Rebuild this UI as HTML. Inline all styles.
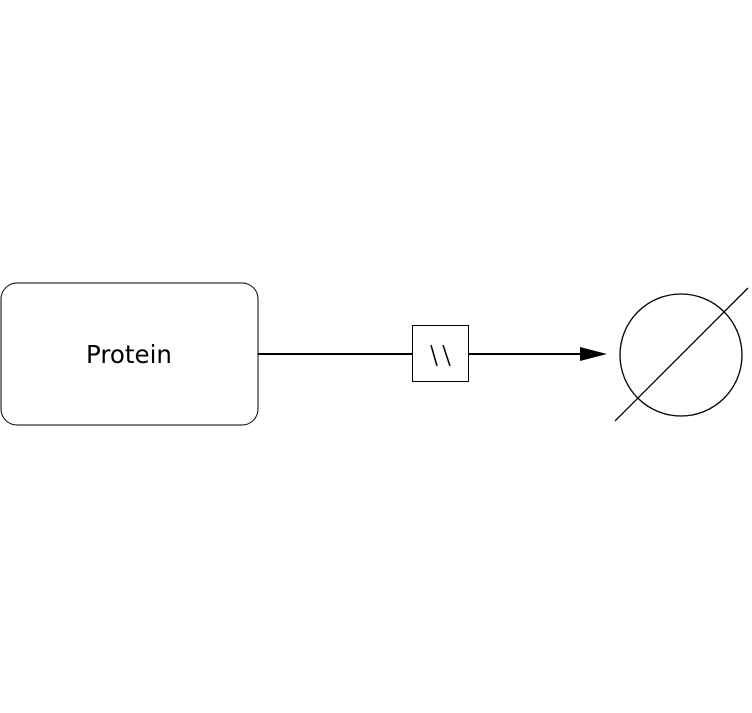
<!DOCTYPE html>
<html><head><style>body{margin:0;background:#fff}</style></head><body>
<svg width="752" height="708" xmlns="http://www.w3.org/2000/svg">
<rect x="1" y="283" width="257" height="142" rx="16" fill="#fff" stroke="#000" stroke-width="1"/>
<text x="129" y="363" font-family="DejaVu Sans, sans-serif" font-size="24.5" text-anchor="middle">Protein</text>
<line x1="258" y1="354" x2="412" y2="354" stroke="#000" stroke-width="2"/>
<line x1="469" y1="354" x2="582" y2="354" stroke="#000" stroke-width="2"/>
<polygon points="580,347 607,354 580,361" fill="#000"/>
<rect x="412.5" y="325.5" width="56" height="56" fill="#fff" stroke="#000"/>
<line x1="431" y1="345" x2="437" y2="366" stroke="#000" stroke-width="1.5"/>
<line x1="443" y1="345" x2="450" y2="366" stroke="#000" stroke-width="1.5"/>
<circle cx="681" cy="355" r="61" fill="none" stroke="#000" stroke-width="1.3"/>
<line x1="615" y1="421" x2="748" y2="288" stroke="#000" stroke-width="1.3"/>
</svg>
</body></html>
